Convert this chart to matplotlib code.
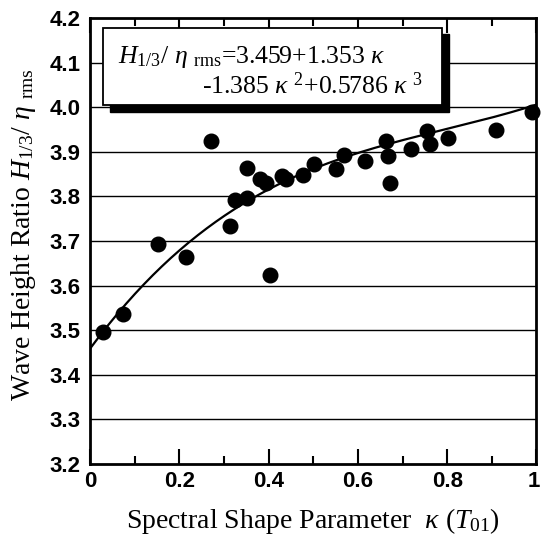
import numpy as np
import matplotlib
matplotlib.use("Agg")
import matplotlib.pyplot as plt
from matplotlib.patches import Rectangle
from matplotlib.ticker import MultipleLocator
from matplotlib.transforms import ScaledTranslation

plt.rcParams["mathtext.fontset"] = "custom"
plt.rcParams["mathtext.rm"] = "Liberation Serif"
plt.rcParams["mathtext.it"] = "Liberation Serif:italic"
plt.rcParams["mathtext.bf"] = "Liberation Serif:bold"

# measured spectral shape parameter and wave height ratio
kappa = [0.028, 0.074, 0.153, 0.215, 0.270, 0.313, 0.325, 0.352, 0.352,
         0.380, 0.393, 0.402, 0.429, 0.439, 0.476, 0.501, 0.551, 0.568,
         0.616, 0.662, 0.668, 0.672, 0.719, 0.754, 0.761, 0.802, 0.909,
         0.991]
ratio = [3.497, 3.536, 3.694, 3.664, 3.925, 3.734, 3.791, 3.797, 3.864,
         3.838, 3.829, 3.623, 3.846, 3.839, 3.847, 3.873, 3.861, 3.892,
         3.880, 3.923, 3.891, 3.830, 3.907, 3.946, 3.918, 3.930, 3.949,
         3.988]

# cubic fit coefficients: c0 + c1*k + c2*k^2 + c3*k^3
coef = [3.459, 1.353, -1.385, 0.5786]

x_ticks = [0, 0.2, 0.4, 0.6, 0.8, 1]
x_labels = ["0", "0.2", "0.4", "0.6", "0.8", "1"]
y_ticks = [3.2, 3.3, 3.4, 3.5, 3.6, 3.7, 3.8, 3.9, 4.0, 4.1, 4.2]

fig = plt.figure(figsize=(5.41, 5.43), dpi=100)
ax = fig.add_axes([0.1667, 0.1455, 0.8248, 0.8215])

ax.set_xlim(0, 1)
ax.set_ylim(3.2, 4.2)

for yv in y_ticks[1:-1]:
    ax.axhline(yv, color="black", lw=1.0, zorder=1)

kk = np.linspace(0, 1, 200)
fit = coef[0] + coef[1] * kk + coef[2] * kk ** 2 + coef[3] * kk ** 3
ax.plot(kk, fit, color="black", lw=1.6, zorder=3)

ax.plot(kappa, ratio, "o", color="black", ms=10.5, zorder=4, clip_on=False)

ax.set_xticks(x_ticks)
ax.set_xticklabels(x_labels)
ax.xaxis.set_minor_locator(MultipleLocator(0.1))
ax.set_yticks(y_ticks)
ax.set_yticklabels([f"{v:.1f}" for v in y_ticks])

ax.tick_params(axis="x", which="major", direction="in", length=11, width=1.5,
               top=True, bottom=True, pad=5)
ax.tick_params(axis="x", which="minor", direction="in", length=6, width=1.5,
               top=True, bottom=True)
ax.tick_params(axis="y", which="major", length=0, pad=7)

for lab in ax.get_xticklabels() + ax.get_yticklabels():
    lab.set_fontfamily("Liberation Sans")
    lab.set_fontweight("bold")
    lab.set_fontsize(16)

# keep the last x tick label inside the figure edge
last = ax.get_xticklabels()[-1]
last.set_transform(last.get_transform()
                   + ScaledTranslation(-2 / 72, 0, fig.dpi_scale_trans))

for sp in ax.spines.values():
    sp.set_linewidth(2.0)

ax.set_xlabel(r"Spectral Shape Parameter  $\kappa$ ($T_{01}$)",
              fontfamily="Liberation Serif", fontsize=20, labelpad=10)
ax.set_ylabel(r"Wave Height Ratio $H_{1/3}$/ $\eta$ $_{\rm rms}$",
              fontfamily="Liberation Serif", fontsize=20, labelpad=8)
ax.yaxis.label.set_y(0.515)

# equation box with drop shadow
box_x0, box_y0, box_w, box_h = 0.0298, 4.004, 0.759, 0.174
ax.add_patch(Rectangle((box_x0 + 0.015, box_y0 - 0.014), box_w, box_h,
                       facecolor="black", edgecolor="black", zorder=5,
                       clip_on=False))
ax.add_patch(Rectangle((box_x0, box_y0), box_w, box_h,
                       facecolor="white", edgecolor="black", lw=1.3, zorder=6,
                       clip_on=False))
ax.text(0.063, 4.1, r"$H_{1/3}$/ $\eta$ $_{\rm rms}$=3.459+1.353 $\kappa$",
        fontfamily="Liberation Serif", fontsize=18.5, zorder=7,
        ha="left", va="baseline")
ax.text(0.251, 4.03, r"-1.385 $\kappa$ $^{2}$+0.5786 $\kappa$ $^{3}$",
        fontfamily="Liberation Serif", fontsize=18.5, zorder=7,
        ha="left", va="baseline")

fig.savefig("out.png", dpi=100)
